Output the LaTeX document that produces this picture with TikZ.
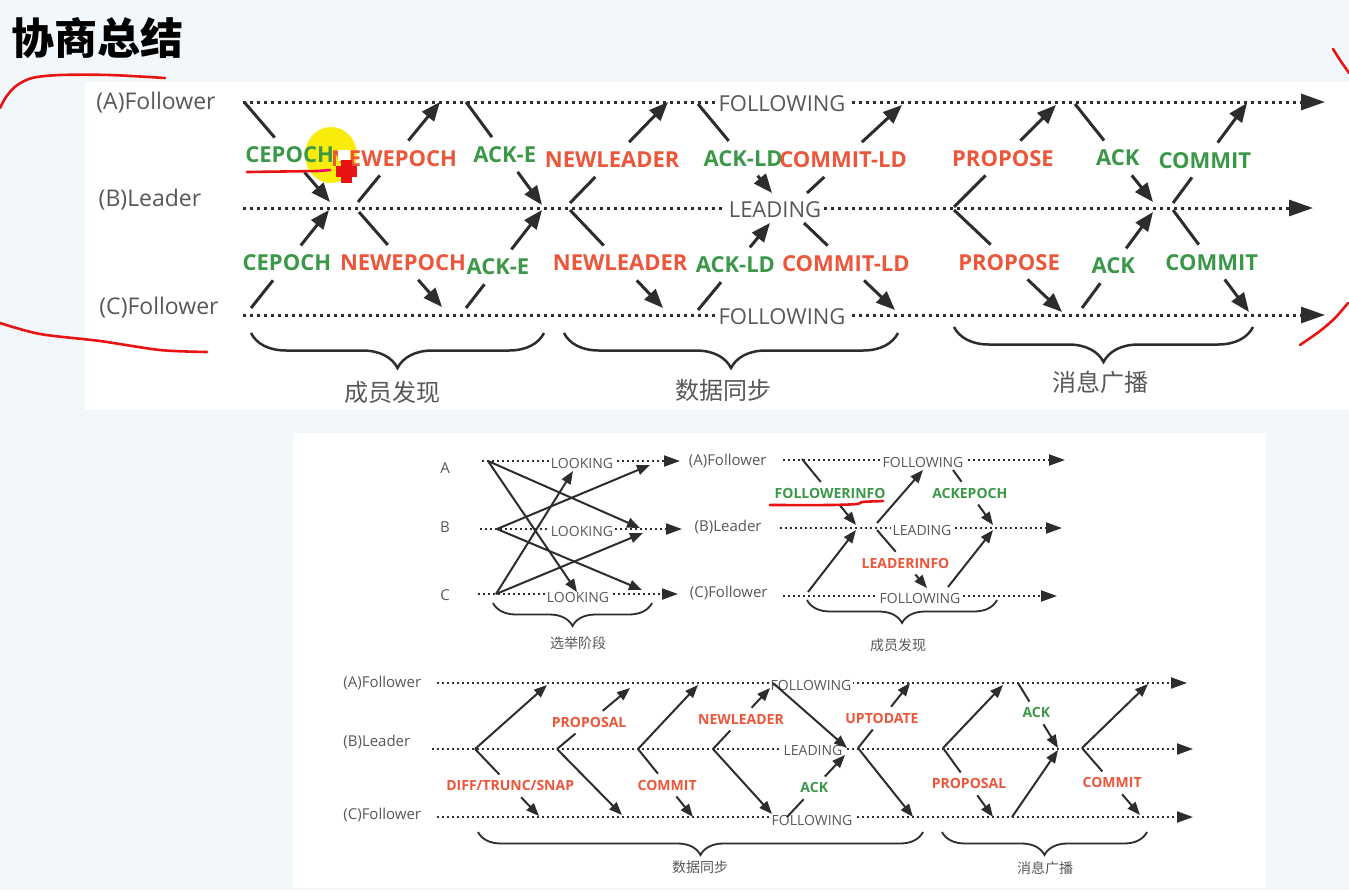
\documentclass[tikz,border=0pt]{standalone}
\usepackage{fontspec}
\setmainfont{Open Sans}
\newfontfamily\cjk{Noto Sans CJK SC}
\usetikzlibrary{arrows.meta,decorations.pathreplacing}
\definecolor{bgc}{RGB}{242,247,251}
\definecolor{dk}{RGB}{45,45,45}
\definecolor{gtxt}{RGB}{88,88,88}
\definecolor{grn}{RGB}{58,152,72}
\definecolor{rd}{RGB}{236,86,58}
\definecolor{pen}{RGB}{232,20,20}
\definecolor{hl}{RGB}{250,236,10}
\newcommand\marr[7]{%
  \coordinate (#1s) at (#2);
  \coordinate (#1e) at (#3);
  \path (#1s) -- node[#4,pos=#6] (#1) {#5} (#1e);
  \draw[#7ln] (#1s) -- (#1);
  \draw[#7ln,#7tip] (#1) -- (#1e);
}
\newcommand\parr[4]{%
  \coordinate (#1s) at (#2);
  \coordinate (#1e) at (#3);
  \draw[#4ln,#4tip] (#1s) -- (#1e);
}
\tikzset{
  tln/.style={draw=dk,line width=1.5pt},
  ttip/.style={-{Triangle[length=9.5pt,width=7.5pt]}},
  bln/.style={draw=dk,line width=1pt},
  btip/.style={-{Triangle[length=6.5pt,width=5pt]}},
  tdot/.style={draw=dk,line width=1.5pt,dash pattern=on 1.5pt off 2pt,-{Triangle[length=12pt,width=8pt]}},
  bdot/.style={draw=dk,line width=1pt,dash pattern=on 1pt off 1.5pt,-{Triangle[length=8pt,width=5.5pt]}},
  tg/.style={text=gtxt,font=\fontsize{11.5}{13}\selectfont,inner sep=0pt},
  bg/.style={text=gtxt,font=\fontsize{7.5}{9}\selectfont,inner sep=0pt},
  tst/.style={text=gtxt,fill=white,font=\fontsize{11}{13}\selectfont,inner sep=1.5pt},
  bst/.style={text=gtxt,fill=white,font=\fontsize{7}{8}\selectfont,inner sep=1pt},
  tlab/.style={font=\bfseries\fontsize{11}{13}\selectfont,text height=8pt,text depth=0pt,inner xsep=1pt,inner ysep=4.5pt},
  tlg/.style={tlab,text=grn},
  tlr/.style={tlab,text=rd},
  blab/.style={font=\bfseries\fontsize{7}{8}\selectfont,text height=5pt,text depth=0pt,inner xsep=1pt,inner ysep=3pt},
  blg/.style={blab,text=grn},
  blr/.style={blab,text=rd},
  tbr/.style={draw=dk,line width=1.25pt,decorate,decoration={brace,mirror,amplitude=17.5pt}},
  bbr/.style={draw=dk,line width=0.9pt,decorate,decoration={brace,mirror,amplitude=11.5pt}},
  tcn/.style={text=gtxt,font=\cjk\fontsize{12}{14}\selectfont},
  bcn/.style={text=gtxt,font=\cjk\fontsize{7}{8}\selectfont},
  redpen/.style={draw=pen,line width=1.3pt,line cap=round,line join=round},
}
\begin{document}
\begin{tikzpicture}[x=0.5pt,y=-0.5pt]
\useasboundingbox (0,0) rectangle (1349,890);
\fill[bgc] (0,0) rectangle (1349,890);
\fill[white] (85,82) rectangle (1349,410);
\fill[white] (293,433) rectangle (1266,888);

% title
\node[font=\cjk\bfseries\fontsize{21.5}{24}\selectfont] (title) at (97,38) {协商总结};

% highlight
\fill[hl] (331,155) ellipse [x radius=13pt, y radius=14pt];

% ===== top diagram =====
\node[tg] (tA) at (156,103) {(A)Follower};
\node[tg] (tB) at (150,200) {(B)Leader};
\node[tg] (tC) at (159,308) {(C)Follower};
\coordinate (TA0) at (243,102); \coordinate (TA1) at (1325,102);
\coordinate (TB0) at (243,208); \coordinate (TB1) at (1313,208);
\coordinate (TC0) at (243,315); \coordinate (TC1) at (1325,315);
\draw[tdot] (TA0) -- (TA1);
\draw[tdot] (TB0) -- (TB1);
\draw[tdot] (TC0) -- (TC1);
\node[tst] (tsA) at (782,104) {FOLLOWING};
\node[tst] (tsB) at (775,210) {LEADING};
\node[tst] (tsC) at (782,317) {FOLLOWING};

\marr{t1}{245,103}{330,202}{tlg}{CEPOCH}{0.525}{t}
\marr{t2}{251,308}{329,210}{tlg}{CEPOCH}{0.46}{t}
\marr{t3}{358,202}{440,102}{tlr}{NEWEPOCH}{0.44}{t}
\marr{t4}{359,212}{442,307}{tlr}{NEWEPOCH}{0.53}{t}
\marr{t5}{466,102}{542,205}{tlg}{ACK-E}{0.51}{t}
\marr{t6}{466,308}{542,210}{tlg}{ACK-E}{0.42}{t}
\marr{t7}{570,203}{668,102}{tlr}{NEWLEADER}{0.43}{t}
\marr{t8}{570,210}{663,308}{tlr}{NEWLEADER}{0.54}{t}
\marr{t9}{698,104}{772,193}{tlg}{ACK-LD}{0.61}{t}
\marr{t10}{698,310}{770,223}{tlg}{ACK-LD}{0.52}{t}
\marr{t11}{807,193}{902,105}{tlr}{COMMIT-LD}{0.38}{t}
\marr{t12}{804,223}{895,310}{tlr}{COMMIT-LD}{0.46}{t}
\marr{t13}{954,207}{1056,105}{tlr}{PROPOSE}{0.48}{t}
\marr{t14}{954,210}{1062,312}{tlr}{PROPOSE}{0.51}{t}
\marr{t15}{1075,104}{1153,202}{tlg}{ACK}{0.55}{t}
\marr{t16}{1082,308}{1153,212}{tlg}{ACK}{0.44}{t}
\marr{t17}{1173,203}{1247,103}{tlg}{COMMIT}{0.43}{t}
\marr{t18}{1173,210}{1249,312}{tlg}{COMMIT}{0.51}{t}

\coordinate (TBr1a) at (251,333); \coordinate (TBr1b) at (544,333);
\coordinate (TBr2a) at (564,333); \coordinate (TBr2b) at (898,333);
\coordinate (TBr3a) at (954,327); \coordinate (TBr3b) at (1253,327);
\draw[tbr] (TBr1a) -- (TBr1b);
\draw[tbr] (TBr2a) -- (TBr2b);
\draw[tbr] (TBr3a) -- (TBr3b);
\node[tcn] (tcn1) at (392,392) {成员发现};
\node[tcn] (tcn2) at (723,390) {数据同步};
\node[tcn] (tcn3) at (1100,382) {消息广播};

% ===== election diagram =====
\node[bg] (eA) at (445,468) {A};
\node[bg] (eB) at (445,527) {B};
\node[bg] (eC) at (445,595) {C};
\coordinate (EA0) at (482,461); \coordinate (EA1) at (680,461);
\coordinate (EB0) at (480,529); \coordinate (EB1) at (682,529);
\coordinate (EC0) at (478,594); \coordinate (EC1) at (678,594);
\draw[bdot] (EA0) -- (EA1);
\draw[bdot] (EB0) -- (EB1);
\draw[bdot] (EC0) -- (EC1);
\node[bst] (esA) at (582,463) {LOOKING};
\node[bst] (esB) at (582,531) {LOOKING};
\node[bst] (esC) at (578,597) {LOOKING};
\parr{e1}{488,461}{640,528}{b}
\parr{e2}{488,461}{577,592}{b}
\parr{e3}{497,529}{650,465}{b}
\parr{e4}{497,529}{642,590}{b}
\parr{e5}{496,594}{573,471}{b}
\parr{e6}{496,594}{643,533}{b}
\coordinate (EBra) at (493,603); \coordinate (EBrb) at (652,603);
\draw[bbr] (EBra) -- (EBrb);
\node[bcn] (ecn) at (578,643) {选举阶段};

% ===== discovery diagram =====
\node[bg,anchor=east] (dA) at (767,461) {(A)Follower};
\node[bg,anchor=east] (dB) at (762,527) {(B)Leader};
\node[bg,anchor=east] (dC) at (768,593) {(C)Follower};
\coordinate (DA0) at (783,460); \coordinate (DA1) at (1065,460);
\coordinate (DB0) at (780,528); \coordinate (DB1) at (1062,528);
\coordinate (DC0) at (783,596); \coordinate (DC1) at (1057,596);
\draw[bdot] (DA0) -- (DA1);
\draw[bdot] (DB0) -- (DB1);
\draw[bdot] (DC0) -- (DC1);
\node[bst] (dsA) at (923,462) {FOLLOWING};
\node[bst] (dsB) at (922,530) {LEADING};
\node[bst] (dsC) at (920,598) {FOLLOWING};
\marr{d1}{802,459}{856,525}{blg}{FOLLOWERINFO}{0.52}{b}
\parr{d2}{808,592}{856,530}{b}
\parr{d3}{877,523}{923,470}{b}
\marr{d4}{877,530}{927,588}{blr}{LEADERINFO}{0.57}{b}
\marr{d5}{953,470}{993,525}{blg}{ACKEPOCH}{0.42}{b}
\parr{d6}{948,587}{993,530}{b}
\coordinate (DBra) at (807,600); \coordinate (DBrb) at (997,600);
\draw[bbr] (DBra) -- (DBrb);
\node[bcn] (dcn) at (898,645) {成员发现};

% ===== sync / broadcast diagram =====
\node[bg,anchor=west] (sA) at (343,683) {(A)Follower};
\node[bg,anchor=west] (sB) at (343,742) {(B)Leader};
\node[bg,anchor=west] (sC) at (343,815) {(C)Follower};
\coordinate (SA0) at (437,683); \coordinate (SA1) at (1187,683);
\coordinate (SB0) at (432,749); \coordinate (SB1) at (1193,749);
\coordinate (SC0) at (437,817); \coordinate (SC1) at (1193,817);
\draw[bdot] (SA0) -- (SA1);
\draw[bdot] (SB0) -- (SB1);
\draw[bdot] (SC0) -- (SC1);
\node[bst] (ssA) at (811,685) {FOLLOWING};
\node[bst] (ssB) at (813,750) {LEADING};
\node[bst] (ssC) at (812,820) {FOLLOWING};
\parr{s1}{475,749}{547,685}{b}
\marr{s2}{475,749}{539,816}{blr}{DIFF/TRUNC/SNAP}{0.55}{b}
\marr{s3}{557,749}{630,688}{blr}{PROPOSAL}{0.44}{b}
\parr{s4}{557,749}{622,815}{b}
\parr{s5}{638,749}{698,685}{b}
\marr{s6}{638,749}{693,817}{blr}{COMMIT}{0.53}{b}
\marr{s7}{713,749}{770,688}{blr}{NEWLEADER}{0.49}{b}
\parr{s8}{713,749}{772,814}{b}
\parr{s9}{773,683}{847,748}{b}
\marr{s10}{787,817}{845,755}{blg}{ACK}{0.47}{b}
\marr{s11}{858,748}{910,683}{blr}{UPTODATE}{0.46}{b}
\parr{s12}{858,748}{913,817}{b}
\parr{s13}{943,748}{1003,685}{b}
\marr{s14}{943,748}{993,817}{blr}{PROPOSAL}{0.52}{b}
\marr{s15}{1018,683}{1058,748}{blg}{ACK}{0.46}{b}
\parr{s16}{1012,817}{1058,750}{b}
\parr{s17}{1082,748}{1148,684}{b}
\marr{s18}{1082,748}{1140,815}{blr}{COMMIT}{0.52}{b}
\coordinate (SBr1a) at (478,832); \coordinate (SBr1b) at (923,832);
\coordinate (SBr2a) at (942,832); \coordinate (SBr2b) at (1147,832);
\draw[bbr] (SBr1a) -- (SBr1b);
\draw[bbr] (SBr2a) -- (SBr2b);
\node[bcn] (scn1) at (700,867) {数据同步};
\node[bcn] (scn2) at (1045,868) {消息广播};

% ===== hand annotations =====
\fill[white] (338,150) rectangle (350,161);
\fill[pen] (336,166) rectangle (357,177);
\fill[pen] (341,160) rectangle (352,183);
\draw[redpen] plot[smooth] coordinates {(165,78) (110,75) (60,75) (32,78) (16,86) (6,97) (0,108)};
\draw[redpen] plot[smooth] coordinates {(0,323) (40,334) (100,341) (160,350) (207,352)};
\draw[redpen] plot[smooth] coordinates {(1333,49) (1340,60) (1349,73)};
\draw[redpen] plot[smooth] coordinates {(1300,345) (1320,331) (1335,318) (1348,303)};
\draw[redpen] (247,172) -- (318,171);
\draw[redpen,draw=magenta!70!red] (318,171) -- (330,170);
\draw[redpen] plot[smooth] coordinates {(770,505) (830,505) (857,504) (862,502) (883,501)};
\end{tikzpicture}
\end{document}
